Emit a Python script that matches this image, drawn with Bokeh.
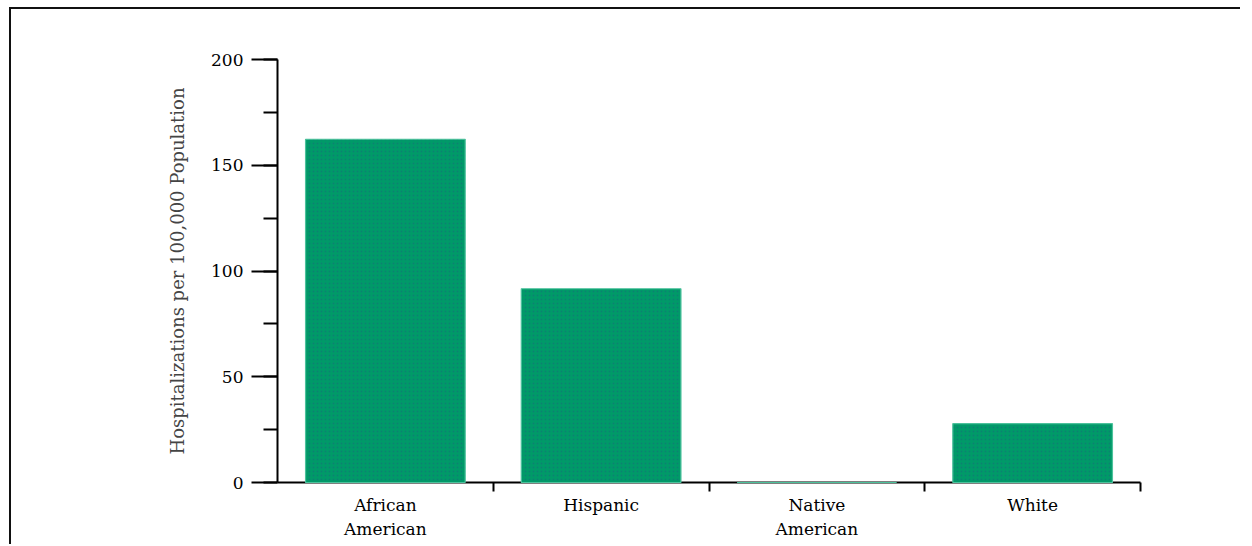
from bokeh.plotting import figure
from bokeh.models import FixedTicker, SingleIntervalTicker, Range1d
from bokeh.embed import file_html
from bokeh.resources import INLINE

categories = ["African American", "Hispanic", "Native American", "White"]
tick_labels = ["African\nAmerican", "Hispanic", "Native\nAmerican", "White"]
rates = [162.3, 91.6, 0.0, 27.8]
y_label = "Hospitalizations per 100,000 Population"

x = [i + 0.5 for i in range(len(categories))]
boundaries = [i + 1 for i in range(len(categories))]

FONT = "DejaVu Serif"

p = figure(width=1232, height=535, output_backend="svg", toolbar_location=None,
           x_range=Range1d(0, len(categories)), y_range=Range1d(0, 200),
           min_border_left=266, min_border_right=100, min_border_top=50,
           min_border_bottom=62)
p.frame_width = 863
p.frame_height = 423
p.styles = {"border-left": "2px solid #111", "border-top": "2px solid #111",
            "margin-left": "9px", "margin-top": "7px"}
p.outline_line_color = None
p.grid.visible = False
p.background_fill_color = "white"
p.border_fill_color = "white"

r = p.vbar(x=x, top=rates, bottom=0, width=0.74, fill_color="#009a68",
           line_color="#4cc29c", line_width=1.2,
           hatch_pattern="dot", hatch_color="#1f5f80", hatch_scale=4,
           hatch_alpha=0.4, hatch_weight=1)
r.level = "overlay"

xa = p.xaxis[0]
xa.ticker = FixedTicker(ticks=x, minor_ticks=boundaries)
xa.major_label_overrides = {xi: lab for xi, lab in zip(x, tick_labels)}
xa.major_tick_line_color = None
xa.major_tick_out = 0
xa.major_tick_in = 0
xa.minor_tick_out = 9
xa.minor_tick_in = 0
xa.minor_tick_line_color = "black"
xa.minor_tick_line_width = 2
xa.axis_line_color = "black"
xa.axis_line_width = 2
xa.major_label_standoff = 3
xa.major_label_text_font = FONT
xa.major_label_text_font_size = "17px"
xa.major_label_text_line_height = 1.2
xa.major_label_text_color = "black"

ya = p.yaxis[0]
ya.ticker = SingleIntervalTicker(interval=50, num_minor_ticks=2)
ya.major_tick_out = 26
ya.major_tick_in = 0
ya.minor_tick_out = 14
ya.minor_tick_in = 0
ya.major_tick_line_width = 2
ya.minor_tick_line_width = 2
ya.axis_line_width = 2
ya.axis_line_color = "black"
ya.major_tick_line_color = "black"
ya.minor_tick_line_color = "black"
ya.major_label_standoff = 8
ya.major_label_text_font = FONT
ya.major_label_text_font_size = "17px"
ya.major_label_text_color = "black"
ya.axis_label = y_label
ya.axis_label_text_font = FONT
ya.axis_label_text_font_style = "normal"
ya.axis_label_text_font_size = "18px"
ya.axis_label_standoff = 20

open("out.html", "w").write(file_html(p, INLINE))
